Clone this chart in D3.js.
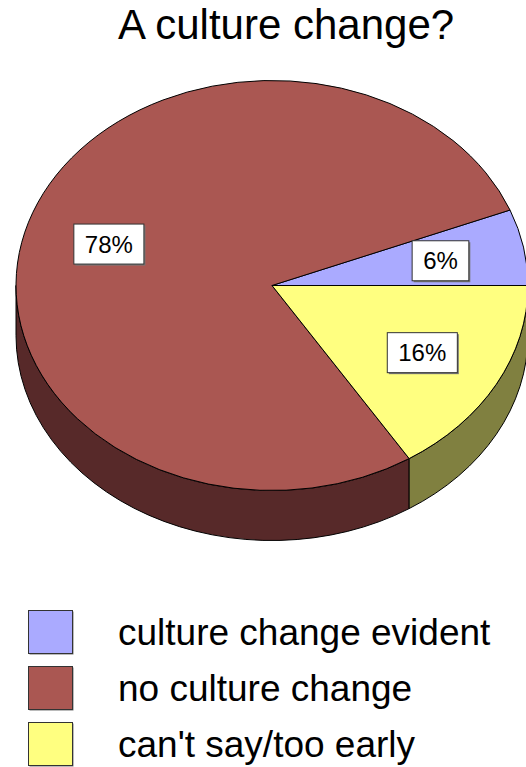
<!DOCTYPE html>
<html><head><meta charset="utf-8">
<script src="https://cdn.jsdelivr.net/npm/d3@7"></script>
<style>html,body{margin:0;padding:0;background:#fff;}svg{display:block;}</style>
</head><body>
<svg id="chart" width="526" height="767"></svg>
<script>
const categories = ["culture change evident", "no culture change", "can't say/too early"];
const values = [6, 78, 16];
const labels = ["6%", "78%", "16%"];
const topColors = ["#AAAAFF", "#AA5752", "#FFFF80"];
const sideColors = ["#55557F", "#572929", "#808040"];
const title = "A culture change?";

const svg = d3.select("#chart");
const FONT = "Liberation Sans, Arial, sans-serif";
const cx = 272, cy = 285.5, rx = 256, ry = 205, depth = 50;

// data order runs counter-clockwise from 3 o'clock
const pie = d3.pie().sort(null).value(d => d).startAngle(Math.PI / 2).endAngle(Math.PI / 2 - 2 * Math.PI);
const arcs = pie(values);

// d3 angle (0 at 12 o'clock, clockwise) -> screen point on ellipse
const px = (a, k = 1) => cx + k * rx * Math.sin(a);
const py = (a, k = 1, dz = 0) => cy - k * ry * Math.cos(a) + dz;

// Side walls (front half: d3 angle in [PI/2, 3PI/2])
const g = svg.append("g");
arcs.forEach((d, i) => {
  let a0 = Math.min(d.startAngle, d.endAngle), a1 = Math.max(d.startAngle, d.endAngle);
  [0, 2 * Math.PI, -2 * Math.PI].forEach(off => {
    const s = Math.max(a0 + off, Math.PI / 2), e = Math.min(a1 + off, 3 * Math.PI / 2);
    if (e - s > 1e-6) {
      const large = (e - s) > Math.PI ? 1 : 0;
      const p = `M${px(s)},${py(s)} A${rx},${ry} 0 ${large} 1 ${px(e)},${py(e)}` +
        ` L${px(e)},${py(e, 1, depth)} A${rx},${ry} 0 ${large} 0 ${px(s)},${py(s, 1, depth)} Z`;
      g.append("path").attr("d", p).attr("fill", sideColors[i]).attr("stroke", "#000").attr("stroke-width", 1).attr("stroke-linejoin", "round");
    }
  });
});

// Top faces
arcs.forEach((d, i) => {
  const s = d.startAngle, e = d.endAngle;
  const sweep = e > s ? 1 : 0;
  const large = Math.abs(e - s) > Math.PI ? 1 : 0;
  const p = `M${cx},${cy} L${px(s)},${py(s)} A${rx},${ry} 0 ${large} ${sweep} ${px(e)},${py(e)} Z`;
  g.append("path").attr("d", p).attr("fill", topColors[i]).attr("stroke", "#000").attr("stroke-width", 1).attr("stroke-linejoin", "round");
});

// Labels
arcs.forEach((d, i) => {
  const m = (d.startAngle + d.endAngle) / 2;
  const lx = px(m, 0.67), ly = py(m, 0.67) + 1;
  const lg = svg.append("g");
  const t = lg.append("text").attr("x", lx).attr("y", ly + 8.5).attr("text-anchor", "middle")
    .attr("font-family", FONT).attr("font-size", 24).attr("fill", "#000").text(labels[i]);
  const w = t.node().getComputedTextLength() + 22, h = 40;
  lg.insert("rect", "text").attr("x", lx - w / 2 + 1.5).attr("y", ly - h / 2 + 1.5).attr("width", w).attr("height", h).attr("fill", "#777");
  lg.insert("rect", "text").attr("x", lx - w / 2).attr("y", ly - h / 2).attr("width", w).attr("height", h)
    .attr("fill", "#fff").attr("stroke", "#333").attr("stroke-width", 1);
});

// Title
svg.append("text").attr("x", 286).attr("y", 39).attr("text-anchor", "middle")
  .attr("font-family", FONT).attr("font-size", 42).attr("fill", "#000").text(title);

// Legend
const ly0 = 610, lstep = 56;
categories.forEach((c, i) => {
  const y = ly0 + i * lstep;
  svg.append("rect").attr("x", 29.5).attr("y", y + 1.5).attr("width", 44).attr("height", 43).attr("fill", "#777");
  svg.append("rect").attr("x", 28.5).attr("y", y + 0.5).attr("width", 44).attr("height", 43)
    .attr("fill", topColors[i]).attr("stroke", "#333").attr("stroke-width", 1);
  svg.append("text").attr("x", 118).attr("y", y + 35).attr("font-family", FONT).attr("font-size", 37)
    .attr("fill", "#000").text(c);
});
</script>
</body></html>
